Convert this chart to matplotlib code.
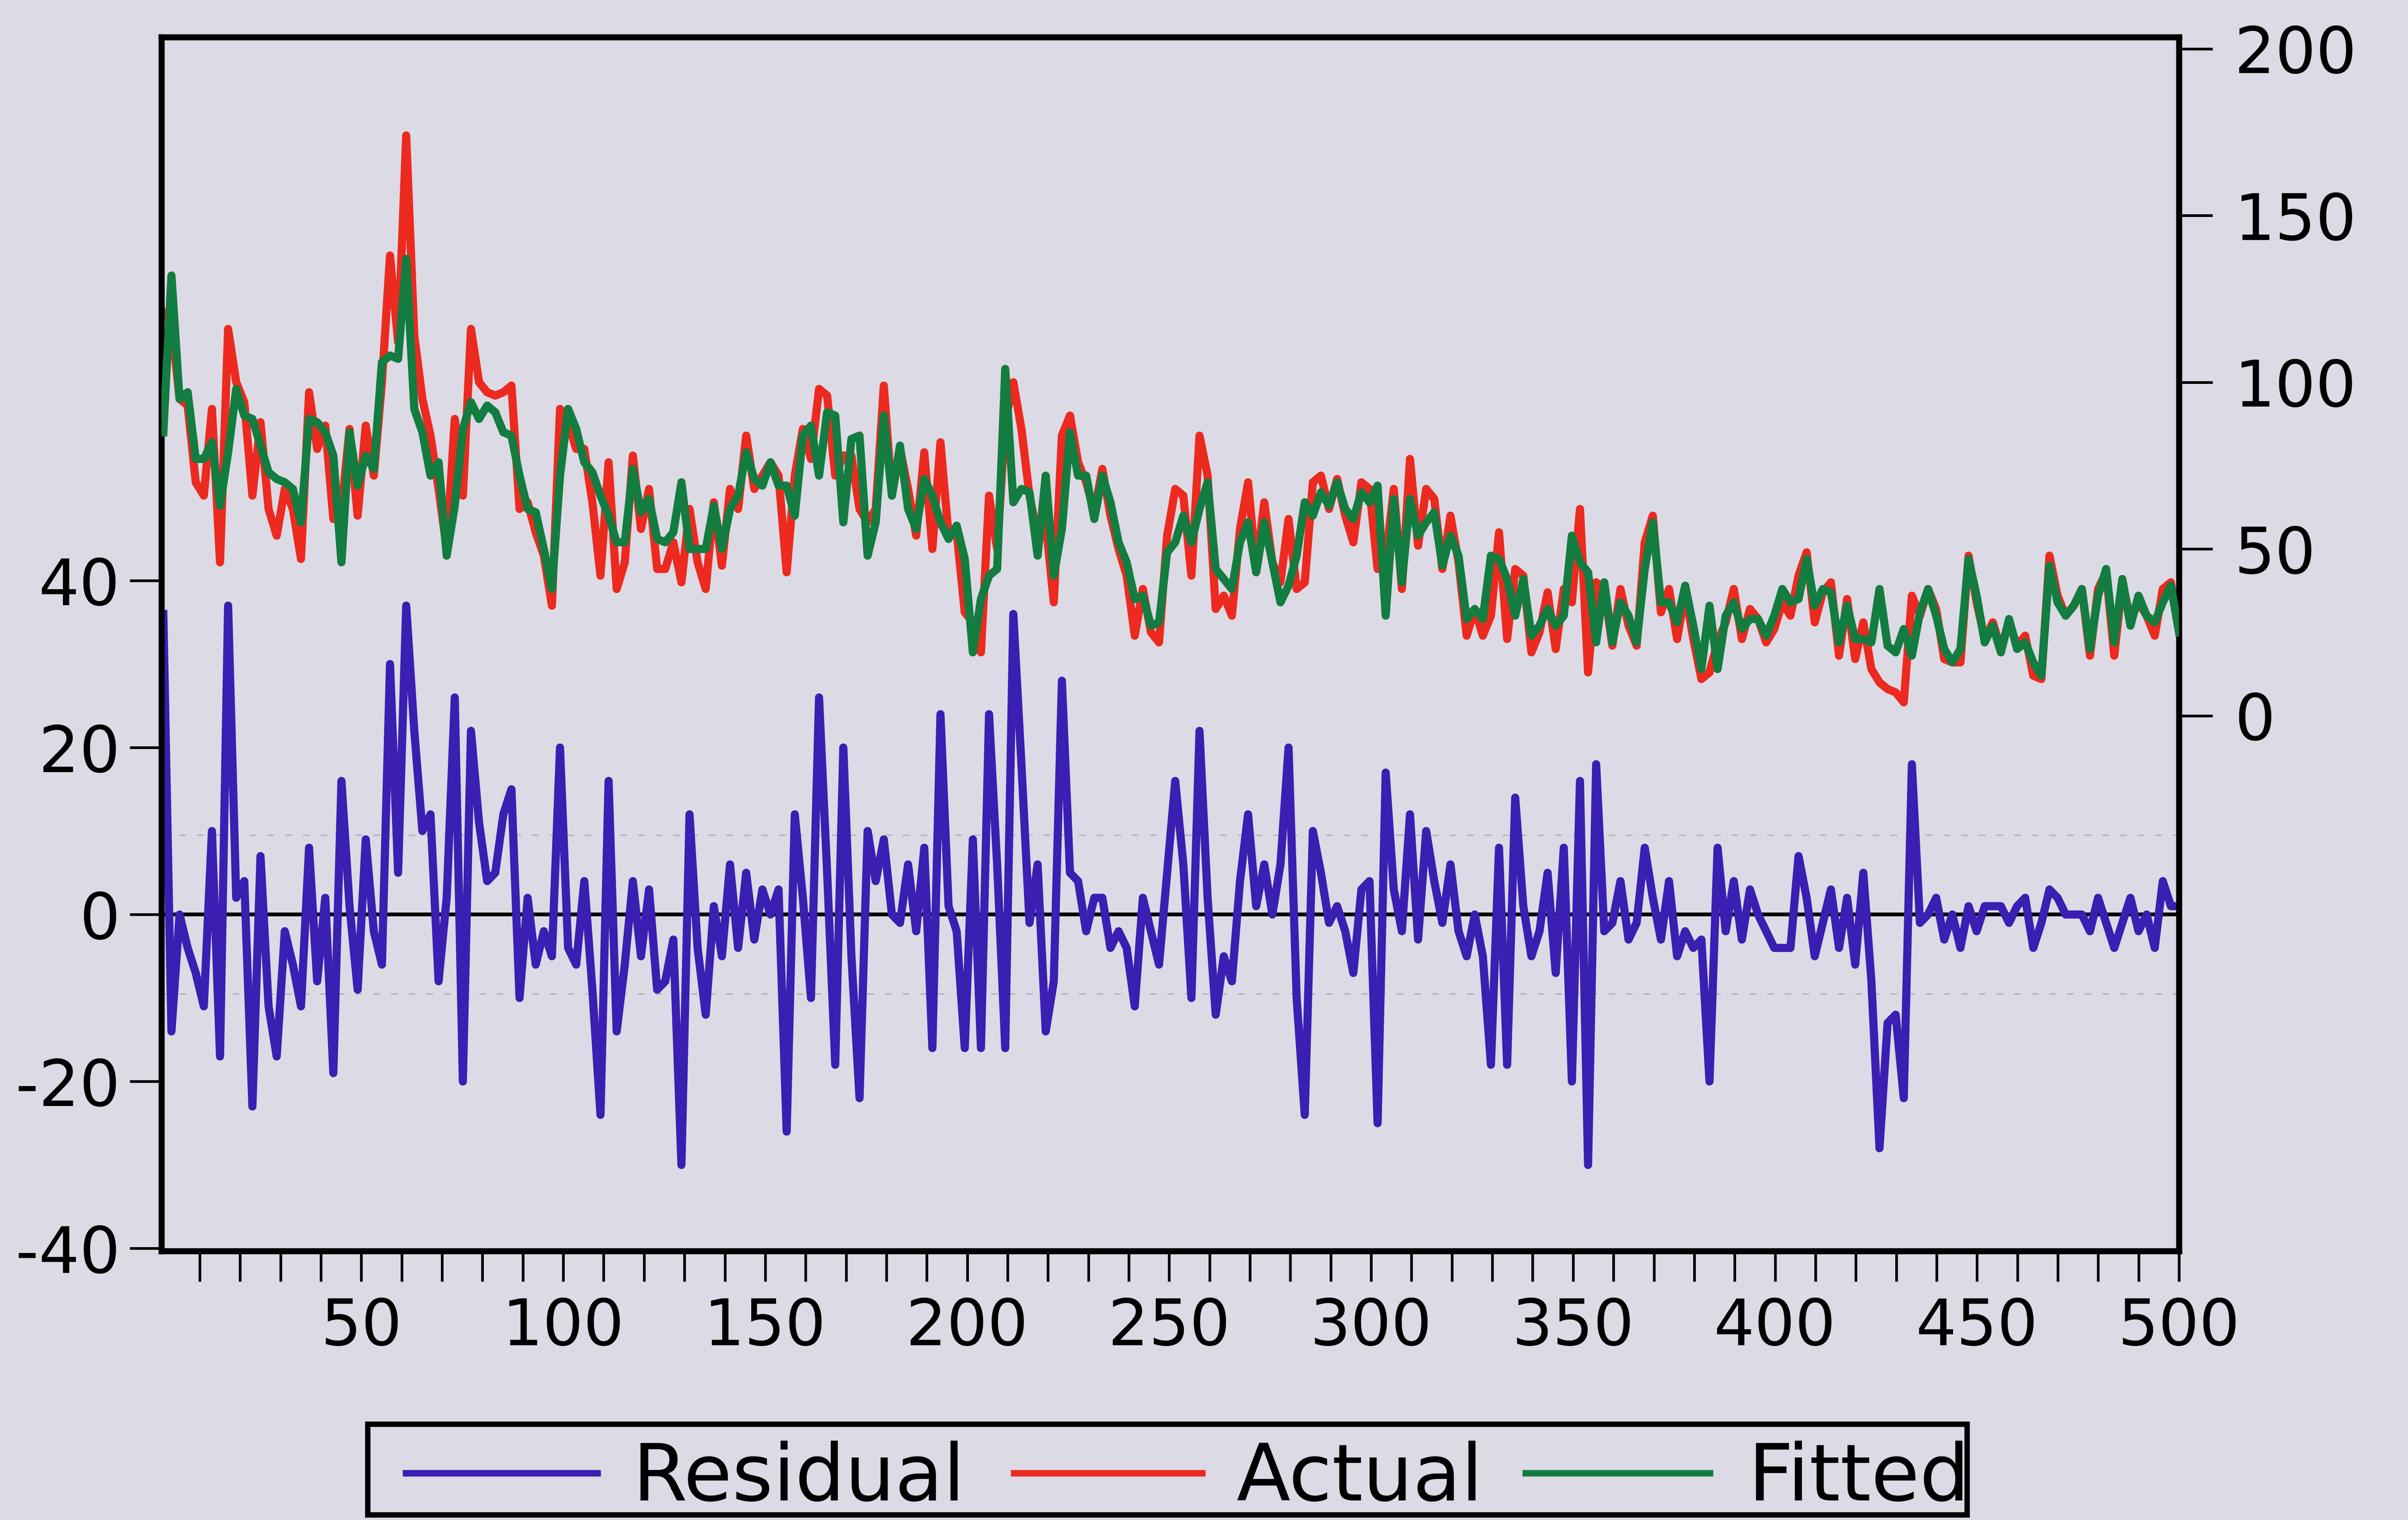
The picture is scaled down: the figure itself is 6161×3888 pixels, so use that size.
import numpy as np
import matplotlib
matplotlib.use("Agg")
import matplotlib.pyplot as plt
from matplotlib.lines import Line2D
from matplotlib.patches import Rectangle

plt.rcParams['axes.unicode_minus'] = False
plt.rcParams['font.family'] = ['DejaVu Sans']

# observation index (every second observation of the 500-obs sample)
obs = np.linspace(1, 500, 250)

actual = [
    121, 118, 95, 93, 70, 66, 92, 46, 116, 100,
    94, 66, 88, 62, 54, 68, 62, 47, 97, 80,
    87, 59, 62, 86, 60, 87, 72, 100, 138, 112,
    174, 114, 95, 84, 68, 50, 89, 66, 116, 100,
    97, 96, 97, 99, 62, 64, 55, 48, 33, 92,
    88, 80, 80, 64, 42, 76, 38, 46, 78, 56,
    68, 44, 44, 52, 40, 62, 46, 38, 64, 45,
    68, 62, 84, 68, 72, 76, 72, 43, 72, 86,
    77, 98, 96, 72, 78, 78, 62, 58, 62, 99,
    66, 80, 68, 54, 79, 50, 82, 54, 55, 31,
    28, 19, 66, 50, 88, 100, 86, 66, 54, 58,
    34, 84, 90, 76, 70, 61, 74, 60, 50, 42,
    24, 38, 25, 22, 54, 68, 66, 42, 84, 72,
    32, 36, 30, 56, 70, 44, 64, 46, 40, 59,
    38, 40, 70, 72, 62, 71, 60, 52, 70, 68,
    44, 47, 68, 38, 77, 51, 68, 65, 44, 60,
    46, 24, 32, 24, 30, 55, 23, 44, 42, 19,
    25, 37, 20, 38, 34, 62, 13, 40, 38, 21,
    38, 27, 21, 52, 60, 31, 38, 23, 37, 23,
    11, 13, 22, 28, 38, 23, 32, 29, 22, 26,
    34, 30, 42, 49, 28, 37, 40, 18, 35, 17,
    28, 14, 10, 8, 7, 4, 36, 30, 38, 32,
    17, 16, 16, 48, 34, 23, 28, 20, 28, 21,
    24, 12, 11, 48, 36, 30, 33, 38, 18, 38,
    43, 18, 40, 29, 34, 30, 24, 38, 40, 26,
]

residual = [
    36, -14, 0, -4, -7, -11, 10, -17, 37, 2,
    4, -23, 7, -11, -17, -2, -6, -11, 8, -8,
    2, -19, 16, 1, -9, 9, -2, -6, 30, 5,
    37, 22, 10, 12, -8, 2, 26, -20, 22, 11,
    4, 5, 12, 15, -10, 2, -6, -2, -5, 20,
    -4, -6, 4, -9, -24, 16, -14, -6, 4, -5,
    3, -9, -8, -3, -30, 12, -4, -12, 1, -5,
    6, -4, 5, -3, 3, 0, 3, -26, 12, 2,
    -10, 26, 5, -18, 20, -5, -22, 10, 4, 9,
    0, -1, 6, -2, 8, -16, 24, 1, -2, -16,
    9, -16, 24, 6, -16, 36, 18, -1, 6, -14,
    -8, 28, 5, 4, -2, 2, 2, -4, -2, -4,
    -11, 2, -2, -6, 5, 16, 6, -10, 22, 2,
    -12, -5, -8, 4, 12, 1, 6, 0, 6, 20,
    -10, -24, 10, 5, -1, 1, -2, -7, 3, 4,
    -25, 17, 3, -2, 12, -3, 10, 4, -1, 6,
    -2, -5, 0, -5, -18, 8, -18, 14, 1, -5,
    -2, 5, -7, 8, -20, 16, -30, 18, -2, -1,
    4, -3, -1, 8, 2, -3, 4, -5, -2, -4,
    -3, -20, 8, -2, 4, -3, 3, 0, -2, -4,
    -4, -4, 7, 2, -5, -1, 3, -4, 2, -6,
    5, -8, -28, -13, -12, -22, 18, -1, 0, 2,
    -3, 0, -4, 1, -2, 1, 1, 1, -1, 1,
    2, -4, -1, 3, 2, 0, 0, 0, -2, 2,
    -1, -4, -1, 2, -2, 0, -4, 4, 1, 1,
]

fitted = np.array(actual) - np.array(residual)

se_band = 9.5  # +/- one standard error of the regression

x_major = [50, 100, 150, 200, 250, 300, 350, 400, 450, 500]
left_ticks = [-40, -20, 0, 20, 40]
right_ticks = [0, 50, 100, 150, 200]
legend_names = ["Residual", "Actual", "Fitted"]

BG = '#dcdae4'
BLUE = '#3a1fb2'
RED = '#ec2a1f'
GREEN = '#137c40'

fig = plt.figure(figsize=(61.61, 38.88), dpi=100, facecolor=BG)
ax = fig.add_axes([0.0670, 0.1770, 0.8379, 0.7986])
ax.set_facecolor(BG)
ax2 = ax.twinx()

# residual panel (left scale)
ax.axhline(0, color='black', lw=7, zorder=1)
for lvl in (se_band, -se_band):
    ax.axhline(lvl, color='#b4b2bd', lw=2.5, ls=(0, (5, 8)), zorder=1)
ax.plot(obs, residual, color=BLUE, lw=15, solid_joinstyle='round', zorder=2)

# actual and fitted (right scale)
ax2.plot(obs, actual, color=RED, lw=15, solid_joinstyle='round', zorder=2)
ax2.plot(obs, fitted, color=GREEN, lw=15, solid_joinstyle='round', zorder=3)

ax.set_xlim(0.5, 500)
ax.set_ylim(-40.3, 105.1)
ax2.set_ylim(-160.5, 203.5)

ax.set_xticks(x_major)
ax.set_xticklabels([str(v) for v in x_major])
ax.set_xticks([v for v in range(10, 500, 10) if v % 50], minor=True)
ax.set_yticks(left_ticks)
ax.set_yticklabels([str(v) for v in left_ticks])
ax2.set_yticks(right_ticks)
ax2.set_yticklabels([str(v) for v in right_ticks])

ax.tick_params(axis='x', which='both', direction='out', length=56, width=5,
               pad=28, labelsize=118, colors='black', top=False)
ax.tick_params(axis='y', which='both', direction='out', length=58, width=5,
               pad=18, labelsize=118, left=True, right=False)
ax2.tick_params(axis='y', which='both', direction='out', length=62, width=5,
                pad=40, labelsize=118, right=True, left=False)

for a in (ax, ax2):
    for sp in a.spines.values():
        sp.set_linewidth(11)
        sp.set_color('black')

# legend strip
fig.patches.append(Rectangle((0.1527, 0.0033), 0.6642, 0.0597, transform=fig.transFigure,
                             fill=False, edgecolor='black', lw=10, zorder=1))
legend_y = 0.0309
text_base = 0.0129
segs = [(0.1672, 0.2495, BLUE, 0.2626),
        (0.4197, 0.5006, RED, 0.5134),
        (0.6322, 0.7114, GREEN, 0.7259)]
for (x0, x1, col, tx), name in zip(segs, legend_names):
    fig.lines.append(Line2D([x0, x1], [legend_y, legend_y], transform=fig.transFigure,
                            color=col, lw=12, solid_capstyle='butt'))
    fig.text(tx, text_base, name, fontsize=145, va='baseline', ha='left', color='black')

fig.savefig('out.png', dpi=100, facecolor=BG)
